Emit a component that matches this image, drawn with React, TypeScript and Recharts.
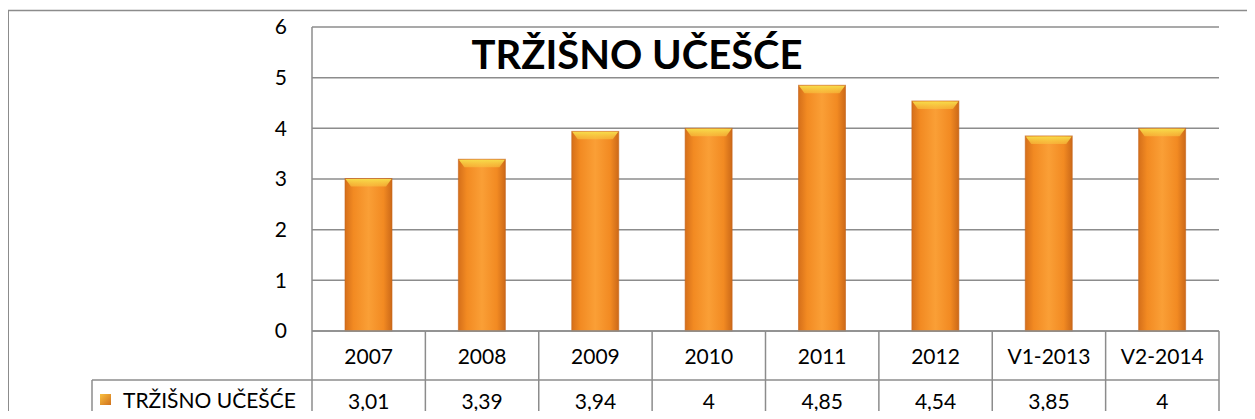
import React from "react";
import { BarChart, Bar, XAxis, YAxis, CartesianGrid } from "recharts";

const categories = ["2007", "2008", "2009", "2010", "2011", "2012", "V1-2013", "V2-2014"];
const shareValues = [3.01, 3.39, 3.94, 4, 4.85, 4.54, 3.85, 4];
const shareLabels = ["3,01", "3,39", "3,94", "4", "4,85", "4,54", "3,85", "4"];
const yTicks = [0, 1, 2, 3, 4, 5, 6];
const seriesName = "TRŽIŠNO UČEŠĆE";
const chartTitle = "TRŽIŠNO UČEŠĆE";

const data = categories.map((name, i) => ({ name, value: shareValues[i], label: shareLabels[i] }));

const W = 1255;
const H = 419;
const LEFT = 312;
const RIGHT = 36;
const TOP = 27;
const BOTTOM = 88;
const band = (W - LEFT - RIGHT) / categories.length;
const FONT = "Lato, 'Open Sans', sans-serif";
const GRID = "#8c8c8c";

const BarShape = (props: any) => {
  const { x, y, width, height } = props;
  if (!height || height <= 0) return null;
  return (
    <g>
      <rect x={x} y={y} width={width} height={height} fill="url(#barBody)" stroke="#c4641c" strokeWidth={1} strokeOpacity={0.6} />
      <path
        d={`M${x + 0.5},${y + 0.5} H${x + width - 0.5} L${x + width - 6},${y + 8} H${x + 6} Z`}
        fill="url(#barTop)"
      />
    </g>
  );
};

const TableTick = (props: any) => {
  const { x, y, payload } = props;
  const i = payload.index;
  const left = x - band / 2;
  const row1 = 49;
  return (
    <g>
      {i === 0 && (
        <g>
          <line x1={LEFT - 220} y1={y + row1} x2={left} y2={y + row1} stroke={GRID} strokeWidth={1.5} />
          <line x1={LEFT - 220} y1={y + row1} x2={LEFT - 220} y2={y + 120} stroke={GRID} strokeWidth={1.5} />
          <rect x={LEFT - 212} y={y + row1 + 14} width={11} height={11} fill="url(#legendBox)" />
          <text x={LEFT - 189} y={y + row1 + 20} dy="0.36em" fontSize={21} fontFamily={FONT} fill="#000">
            {seriesName}
          </text>
          <line x1={left} y1={y} x2={left} y2={y + 120} stroke={GRID} strokeWidth={1.5} />
        </g>
      )}
      <line x1={left} y1={y} x2={left + band} y2={y} stroke={GRID} strokeWidth={1.5} />
      <line x1={left} y1={y + row1} x2={left + band} y2={y + row1} stroke={GRID} strokeWidth={1.5} />
      <line x1={left + band} y1={y} x2={left + band} y2={y + 120} stroke={GRID} strokeWidth={1.5} />
      <text x={x} y={y + 25} dy="0.36em" textAnchor="middle" fontSize={21} fontFamily={FONT} fill="#000">
        {payload.value}
      </text>
      <text x={x} y={y + row1 + 21} dy="0.36em" textAnchor="middle" fontSize={21} fontFamily={FONT} fill="#000">
        {data[i].label}
      </text>
    </g>
  );
};

export default function App() {
  return (
    <div style={{ width: W, height: H, margin: -8, background: "#fff" }}>
      <BarChart width={W} height={H} data={data} margin={{ top: TOP, right: RIGHT, left: LEFT - 60, bottom: 0 }} barCategoryGap={0}>
        <defs>
          <linearGradient id="barBody" x1="0" y1="0" x2="1" y2="0">
            <stop offset="0%" stopColor="#d56f1a" />
            <stop offset="18%" stopColor="#f28a22" />
            <stop offset="50%" stopColor="#fa9f36" />
            <stop offset="82%" stopColor="#f28a22" />
            <stop offset="100%" stopColor="#cc6918" />
          </linearGradient>
          <linearGradient id="barTop" x1="0" y1="0" x2="0" y2="1">
            <stop offset="0%" stopColor="#f7dc4a" stopOpacity={1} />
            <stop offset="100%" stopColor="#f8c23e" stopOpacity={0.6} />
          </linearGradient>
          <linearGradient id="legendBox" x1="0" y1="0" x2="1" y2="1">
            <stop offset="0%" stopColor="#f9c040" />
            <stop offset="100%" stopColor="#d0701c" />
          </linearGradient>
        </defs>
        <line x1={8} y1={10.5} x2={W} y2={10.5} stroke={GRID} strokeWidth={1.5} />
        <line x1={8} y1={10} x2={8} y2={H} stroke={GRID} strokeWidth={2} />
        <CartesianGrid horizontal vertical={false} stroke={GRID} strokeWidth={1.5} />
        <YAxis
          domain={[0, 6]}
          ticks={yTicks}
          width={60}
          tickLine={false}
          tickSize={0}
          tickMargin={25}
          axisLine={{ stroke: GRID, strokeWidth: 1.5 }}
          tick={{ fontSize: 21, fontFamily: FONT, fill: "#000" }}
          interval={0}
        />
        <XAxis
          dataKey="name"
          height={BOTTOM}
          axisLine={false}
          tickLine={false}
          tickSize={0}
          tickMargin={0}
          interval={0}
          tick={<TableTick />}
        />
        <Bar dataKey="value" barSize={47} shape={<BarShape />} isAnimationActive={false} />
        <text x={637} y={69} textAnchor="middle" fontSize={40} fontWeight="bold" fontFamily={FONT} fill="#000">
          {chartTitle}
        </text>
      </BarChart>
    </div>
  );
}
